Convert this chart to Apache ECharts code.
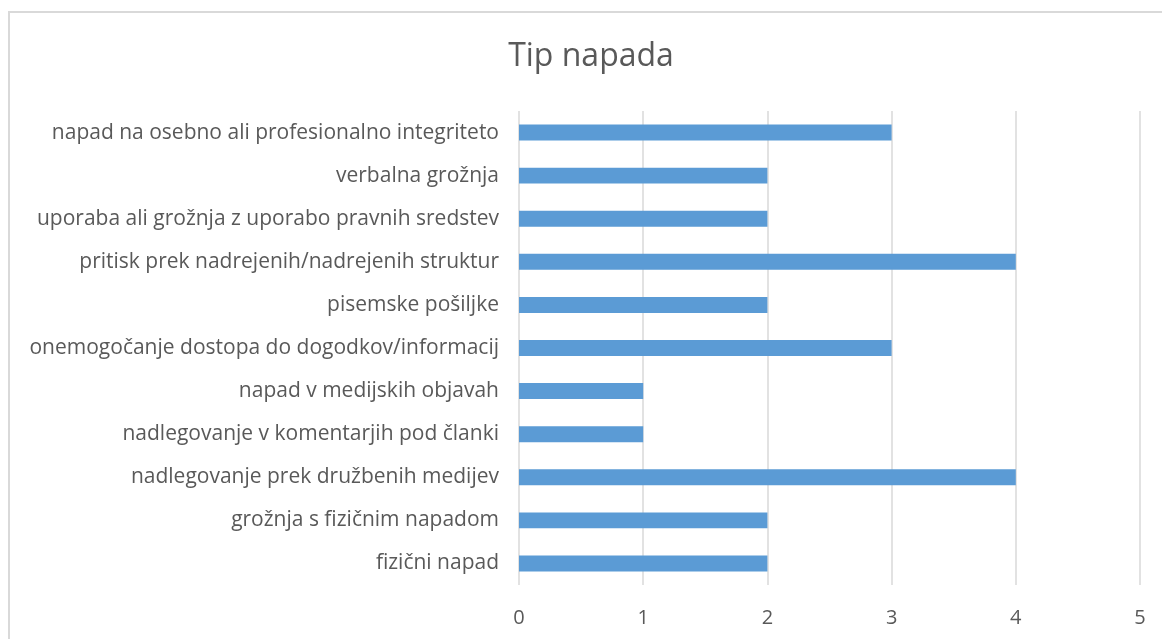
<!DOCTYPE html>
<html>
<head>
<meta charset="utf-8">
<script src="https://cdn.jsdelivr.net/npm/echarts@6/dist/echarts.min.js"></script>
<style>
  html, body { margin: 0; padding: 0; background: #fff; }
  #main { width: 1162px; height: 639px; }
  #frame { position: absolute; left: 8px; top: 11px; width: 1170px; height: 650px;
           border: 2px solid #d9d9d9; box-sizing: border-box; pointer-events: none; }
</style>
</head>
<body>
<div id="main"></div>
<div id="frame"></div>
<script>
// categories listed bottom to top (as the y axis draws them)
const categories = [
  "fizični napad",
  "grožnja s fizičnim napadom",
  "nadlegovanje prek družbenih medijev",
  "nadlegovanje v komentarjih pod članki",
  "napad v medijskih objavah",
  "onemogočanje dostopa do dogodkov/informacij",
  "pisemske pošiljke",
  "pritisk prek nadrejenih/nadrejenih struktur",
  "uporaba ali grožnja z uporabo pravnih sredstev",
  "verbalna grožnja",
  "napad na osebno ali profesionalno integriteto"
];
const counts = [2, 2, 4, 1, 1, 3, 2, 4, 2, 2, 3];

const chart = echarts.init(document.getElementById("main"));
const font = "'Open Sans', sans-serif";

chart.setOption({
  animation: false,
  title: {
    text: "Tip napada",
    left: 586,
    top: 36,
    textAlign: "center",
    textStyle: { fontFamily: font, fontSize: 32, fontWeight: "normal", color: "#595959" }
  },
  grid: { left: 519, right: 22, top: 111, bottom: 54 },
  xAxis: {
    type: "value",
    min: 0,
    max: 5,
    interval: 1,
    axisLine: { show: false },
    axisTick: { show: false },
    splitLine: { lineStyle: { color: "#d9d9d9", width: 1.5 } },
    axisLabel: { fontFamily: font, fontSize: 20, color: "#595959", margin: 23 }
  },
  yAxis: {
    type: "category",
    data: categories,
    axisLine: { show: false },
    axisTick: { show: false },
    axisLabel: { fontFamily: font, fontSize: 21, color: "#595959", margin: 20 }
  },
  series: [{
    type: "bar",
    data: counts,
    barWidth: "37%",
    itemStyle: { color: "#5b9bd5" }
  }]
});
</script>
</body>
</html>
